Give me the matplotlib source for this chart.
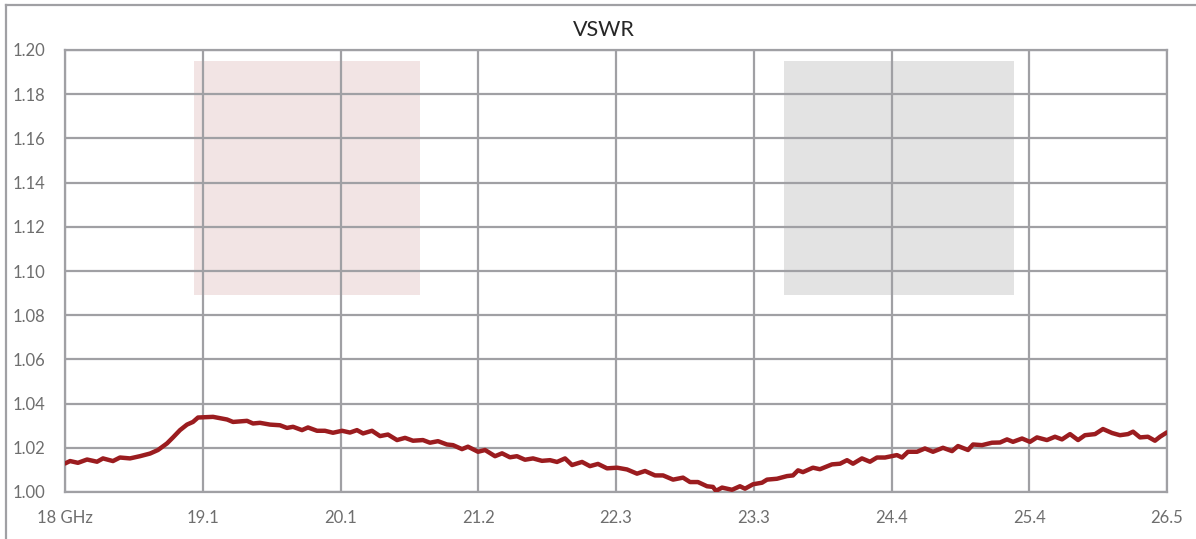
import matplotlib
matplotlib.use("Agg")
import matplotlib.pyplot as plt
from matplotlib.lines import Line2D
import numpy as np

# measured VSWR trace (frequency in GHz)
freq_ghz = [18.000, 18.039, 18.100, 18.170, 18.247, 18.293, 18.370, 18.424, 18.501, 18.578,
            18.656, 18.717, 18.787, 18.833, 18.887, 18.941, 18.987, 19.026, 19.142, 19.250,
            19.296, 19.404, 19.450, 19.504, 19.581, 19.658, 19.712, 19.759, 19.828, 19.874,
            19.944, 20.005, 20.067, 20.137, 20.198, 20.252, 20.299, 20.368, 20.430, 20.491,
            20.561, 20.623, 20.684, 20.761, 20.815, 20.877, 20.946, 20.993, 21.062, 21.108,
            21.186, 21.240, 21.317, 21.371, 21.432, 21.486, 21.548, 21.610, 21.679, 21.741,
            21.795, 21.857, 21.911, 21.988, 22.049, 22.111, 22.181, 22.258, 22.335, 22.412,
            22.474, 22.551, 22.613, 22.690, 22.767, 22.821, 22.882, 22.952, 22.998, 23.021,
            23.068, 23.145, 23.206, 23.245, 23.307, 23.376, 23.415, 23.492, 23.569, 23.615,
            23.654, 23.692, 23.769, 23.823, 23.916, 23.978, 24.032, 24.078, 24.147, 24.209,
            24.263, 24.325, 24.417, 24.456, 24.502, 24.572, 24.633, 24.695, 24.772, 24.842,
            24.888, 24.965, 25.004, 25.073, 25.150, 25.212, 25.266, 25.312, 25.382, 25.443,
            25.497, 25.574, 25.636, 25.690, 25.752, 25.814, 25.867, 25.945, 26.006, 26.076,
            26.137, 26.199, 26.238, 26.292, 26.353, 26.407, 26.446, 26.500]
vswr = [1.0129, 1.0140, 1.0132, 1.0147, 1.0137, 1.0152, 1.0140, 1.0156, 1.0152, 1.0162,
        1.0174, 1.0190, 1.0220, 1.0247, 1.0280, 1.0305, 1.0317, 1.0337, 1.0340, 1.0328,
        1.0317, 1.0322, 1.0310, 1.0313, 1.0305, 1.0302, 1.0290, 1.0295, 1.0280, 1.0292,
        1.0277, 1.0277, 1.0268, 1.0277, 1.0269, 1.0280, 1.0265, 1.0277, 1.0253, 1.0260,
        1.0235, 1.0245, 1.0232, 1.0235, 1.0223, 1.0230, 1.0215, 1.0212, 1.0194, 1.0205,
        1.0182, 1.0190, 1.0162, 1.0175, 1.0157, 1.0162, 1.0146, 1.0152, 1.0141, 1.0144,
        1.0136, 1.0152, 1.0122, 1.0136, 1.0117, 1.0127, 1.0107, 1.0110, 1.0102, 1.0083,
        1.0095, 1.0075, 1.0075, 1.0056, 1.0065, 1.0045, 1.0045, 1.0026, 1.0023, 1.0005,
        1.0020, 1.0010, 1.0026, 1.0015, 1.0035, 1.0042, 1.0056, 1.0060, 1.0072, 1.0075,
        1.0098, 1.0090, 1.0110, 1.0103, 1.0125, 1.0128, 1.0144, 1.0128, 1.0152, 1.0137,
        1.0156, 1.0156, 1.0167, 1.0156, 1.0182, 1.0182, 1.0197, 1.0182, 1.0200, 1.0185,
        1.0208, 1.0190, 1.0215, 1.0212, 1.0223, 1.0224, 1.0238, 1.0227, 1.0242, 1.0227,
        1.0247, 1.0235, 1.0250, 1.0238, 1.0262, 1.0235, 1.0257, 1.0262, 1.0285, 1.0267,
        1.0257, 1.0262, 1.0273, 1.0247, 1.0250, 1.0232, 1.0250, 1.0270]

x_labels = ["18 GHz", "19.1", "20.1", "21.2", "22.3", "23.3", "24.4", "25.4", "26.5"]
y_ticks = [1.00, 1.02, 1.04, 1.06, 1.08, 1.10, 1.12, 1.14, 1.16, 1.18, 1.20]

# shaded boxes
box_start = [18.995, 23.546]
box_end = [20.74, 25.32]
box_low = [1.089, 1.089]
box_high = [1.195, 1.195]
box_colors = ["#f2e4e4", "#e3e3e3"]

plt.rcParams['font.family'] = ['Lato', 'DejaVu Sans']

fig = plt.figure(figsize=(11.96, 5.39), dpi=100)
ax = fig.add_axes([65/1196, 47/539, 1102/1196, 442/539])

for s, e, lo, hi, c in zip(box_start, box_end, box_low, box_high, box_colors):
    ax.fill_between([s, e], lo, hi, color=c, linewidth=0, zorder=0)

ax.plot(freq_ghz, vswr, color="#9b1c1f", linewidth=3.2, solid_joinstyle="round",
        solid_capstyle="round", zorder=3)

ax.set_xlim(18, 26.5)
ax.set_ylim(1.00, 1.20)
ax.set_xticks(np.linspace(18, 26.5, len(x_labels)))
ax.set_xticklabels(x_labels)
ax.set_yticks(y_ticks)
ax.set_yticklabels([f"{v:.2f}" for v in y_ticks])
ax.tick_params(length=0, labelsize=12, colors="#6e6e6e")
ax.tick_params(axis='x', pad=13)
ax.tick_params(axis='y', pad=14)
ax.grid(True, color="#a0a0a4", linewidth=1.6, zorder=1)
ax.set_axisbelow(False)
for sp in ax.spines.values():
    sp.set_color("#a0a0a4")
    sp.set_linewidth(1.6)

fig.text(604/1196, 1 - 30/539, "VSWR", ha="center", va="center", fontsize=15.5, color="#262626")

# outer chart border
fig.add_artist(Line2D([6/1196, 6/1196], [0, 1 - 5/539], color="#a0a0a4", linewidth=1.6))
fig.add_artist(Line2D([6/1196, 1], [1 - 5/539, 1 - 5/539], color="#a0a0a4", linewidth=1.6))

fig.savefig("out.png", dpi=100)
